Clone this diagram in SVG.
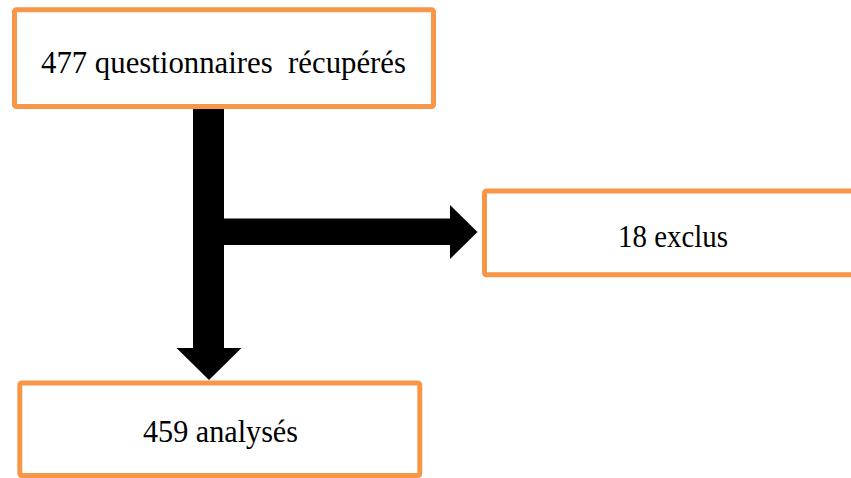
<svg xmlns="http://www.w3.org/2000/svg" width="851" height="478" viewBox="0 0 851 478">
<style>
.box{fill:#fff;stroke:#F79646;stroke-width:5}
.lbl{font-family:'Liberation Serif','Times New Roman',Times,serif;font-size:32px;fill:#000}
.arrow{fill:#000}
</style>
<rect width="851" height="478" fill="#fff"/>
<g id="connectors">
<path class="arrow" d="M193,104 L224,104 L224,218.5 L450,218.5 L450,205 L477.5,232 L450,259 L450,245 L224,245 L224,348 L241.5,348 L209,380 L176.5,348 L193,348 Z"/>
</g>
<g id="node-top">
<rect class="box" x="14.5" y="9.8" width="419" height="96.7" rx="2"/>
<text class="lbl" x="41" y="73" textLength="365" lengthAdjust="spacingAndGlyphs" xml:space="preserve">477 questionnaires  récupérés</text>
</g>
<g id="node-excl">
<rect class="box" x="484.5" y="191" width="400" height="83.7" rx="2"/>
<text class="lbl" x="618" y="247" textLength="110" lengthAdjust="spacingAndGlyphs">18 exclus</text>
</g>
<g id="node-analyses">
<rect class="box" x="19.8" y="383" width="400" height="92.5" rx="2"/>
<text class="lbl" x="143" y="442" textLength="155" lengthAdjust="spacingAndGlyphs">459 analysés</text>
</g>
</svg>
